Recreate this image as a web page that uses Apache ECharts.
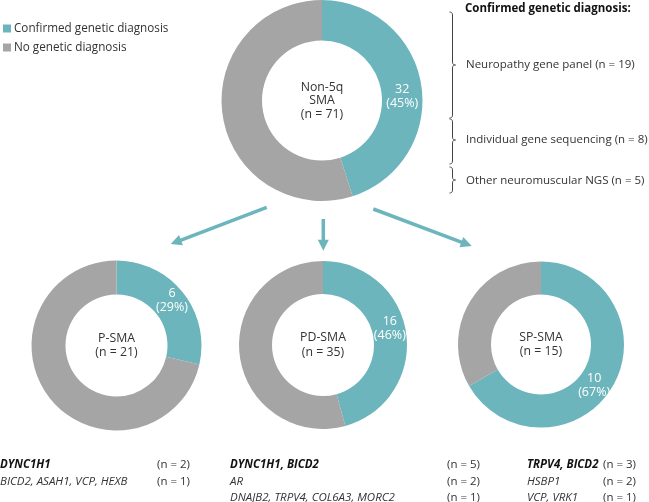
<!DOCTYPE html>
<html><head><meta charset="utf-8">
<script src="https://cdn.jsdelivr.net/npm/echarts@6/dist/echarts.min.js"></script>
<style>html,body{margin:0;padding:0;background:#fff}#c{width:649px;height:502px}</style>
</head><body><div id="c"></div>
<script>
// ---- data ----
const groups = ['Non-5q\nSMA', 'P-SMA', 'PD-SMA', 'SP-SMA'];
const totals = [71, 21, 35, 15];
const confirmed = [32, 6, 16, 10];
const legendNames = ['Confirmed genetic diagnosis', 'No genetic diagnosis'];
const methodTitle = 'Confirmed genetic diagnosis:';
const methodNames = ['Neuropathy gene panel', 'Individual gene sequencing', 'Other neuromuscular NGS'];
const methodCounts = [19, 8, 5];
const pGenes = ['DYNC1H1', 'BICD2, ASAH1, VCP, HEXB'];
const pCounts = [2, 1];
const pdGenes = ['DYNC1H1, BICD2', 'AR', 'DNAJB2, TRPV4, COL6A3, MORC2'];
const pdCounts = [5, 2, 1];
const spGenes = ['TRPV4, BICD2', 'HSBP1', 'VCP, VRK1'];
const spCounts = [3, 2, 1];

// ---- layout ----
const TEAL = '#6db5bc', GREY = '#a5a5a5', TXT = '#333333';
const FONT = '"Open Sans", "Noto Sans", sans-serif';
const FS = 11.5;
const centers = [[322, 100.5], [116.5, 345.5], [323, 345], [541, 344.5]];
const radii = [[60, 100.5], [51, 85], [51, 84], [50, 83]];
const labelOffsets = [[-2, 9], [0, -1], [-3, -7], [-7, 6]];

const chart = echarts.init(document.getElementById('c'), null, {renderer: 'canvas'});

const series = groups.map((g, i) => ({
  type: 'pie',
  center: centers[i],
  radius: radii[i],
  startAngle: 90,
  clockwise: true,
  percentPrecision: 0,
  silent: true,
  emphasis: {disabled: true},
  labelLine: {show: false},
  data: [
    {name: legendNames[0], value: confirmed[i], itemStyle: {color: TEAL},
     label: {show: true, position: 'inside', formatter: '{c}\n({d}%)', color: '#fff',
             fontSize: 12.5, lineHeight: 14, fontFamily: FONT, offset: labelOffsets[i]}},
    {name: legendNames[1], value: totals[i] - confirmed[i], itemStyle: {color: GREY},
     label: {show: false}}
  ]
}));

const graphic = [];
function txt(x, y, text, opts) {
  opts = opts || {};
  const font = (opts.italic ? 'italic ' : '') + (opts.bold ? 'bold ' : '') + (opts.size || FS) + 'px ' + FONT;
  graphic.push({
    type: 'text', x: x, y: y, silent: true,
    style: {text: text, font: font, fill: opts.color || TXT,
            align: opts.align || 'left', verticalAlign: 'middle',
            textAlign: opts.align || 'left', textVerticalAlign: 'middle',
            lineHeight: opts.lineHeight || 14}
  });
}
// center labels
groups.forEach((g, i) => {
  txt(centers[i][0], centers[i][1], g + '\n(n = ' + totals[i] + ')',
      {align: 'center', size: 12.3, lineHeight: i === 0 ? 13.5 : 14.4});
});
// arrows
const arrows = [[[266.7, 207.3], [170.7, 244]], [[323.3, 219], [323.3, 250.7]], [[373.3, 209], [471.7, 246]]];
arrows.forEach(a => {
  const [p0, p1] = a;
  const dx = p1[0] - p0[0], dy = p1[1] - p0[1];
  const L = Math.sqrt(dx * dx + dy * dy), ux = dx / L, uy = dy / L;
  const hl = 11, hw = 5.5;
  const bx = p1[0] - ux * hl, by = p1[1] - uy * hl;
  graphic.push({type: 'line', silent: true,
    shape: {x1: p0[0], y1: p0[1], x2: bx + ux * 2, y2: by + uy * 2},
    style: {stroke: TEAL, lineWidth: 3.5}});
  graphic.push({type: 'polygon', silent: true,
    shape: {points: [[p1[0], p1[1]], [bx - uy * hw, by + ux * hw], [bx + uy * hw, by - ux * hw]]},
    style: {fill: TEAL}});
});
// braces (quadratic curves sampled into polylines)
function quad(p0, c, p1, n) {
  const pts = [];
  for (let k = 0; k <= n; k++) {
    const t = k / n, u = 1 - t;
    pts.push([u * u * p0[0] + 2 * u * t * c[0] + t * t * p1[0], u * u * p0[1] + 2 * u * t * c[1] + t * t * p1[1]]);
  }
  return pts;
}
const braces = [[12, 65, 118], [119, 140, 164], [167, 180, 193]];
const bx0 = 452.5;
braces.forEach(b => {
  const [t, m, e] = b, r = 3;
  let pts = [];
  pts = pts.concat(quad([bx0 - r, t], [bx0, t], [bx0, t + r], 6));
  pts = pts.concat(quad([bx0, m - r], [bx0, m], [bx0 + r, m], 6));
  pts = pts.concat(quad([bx0 + r, m], [bx0, m], [bx0, m + r], 6));
  pts = pts.concat(quad([bx0, e - r], [bx0, e], [bx0 - r, e], 6));
  graphic.push({type: 'polyline', silent: true, shape: {points: pts},
    style: {stroke: '#444', lineWidth: 1, fill: null}});
});
// right annotations
txt(465, 9, methodTitle, {bold: true, size: 11.5, color: '#111'});
const methodY = [65, 140, 181];
methodNames.forEach((n, i) => txt(466, methodY[i], n + ' (n = ' + methodCounts[i] + ')', {size: 11.5}));
// bottom gene lists
const rowsY = [465, 481.5, 498];
const cols = [[pGenes, pCounts, 0, 157], [pdGenes, pdCounts, 230, 447], [spGenes, spCounts, 527, 603]];
cols.forEach(c => {
  const [genes, counts, xn, xc] = c;
  genes.forEach((gname, j) => {
    txt(xn, rowsY[j], gname, {italic: true, bold: j === 0, color: j === 0 ? '#111' : TXT});
    txt(xc, rowsY[j], '(n = ' + counts[j] + ')');
  });
});

chart.setOption({
  animation: false,
  legend: {
    left: 3, top: 22.5, padding: 0, orient: 'vertical', icon: 'rect', itemWidth: 8, itemHeight: 8, itemGap: 7,
    data: legendNames, selectedMode: false,
    textStyle: {fontSize: 11.7, fontFamily: FONT, color: TXT, padding: [0, 0, 0, -2]}
  },
  series: series,
  graphic: graphic
});
</script></body></html>
